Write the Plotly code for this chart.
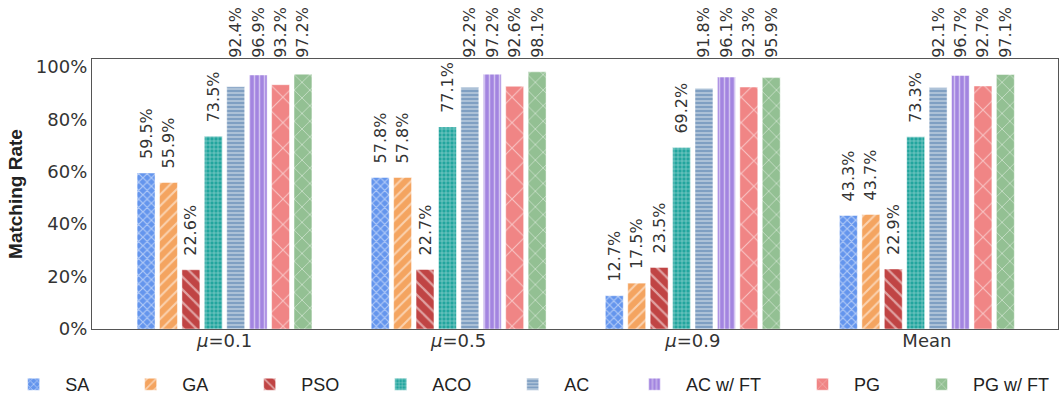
import plotly.graph_objects as go

groups = ["<i>μ</i>=0.1", "<i>μ</i>=0.5", "<i>μ</i>=0.9", "Mean"]
methods = ["SA", "GA", "PSO", "ACO", "AC", "AC w/ FT", "PG", "PG w/ FT"]

sa = [59.5, 57.8, 12.7, 43.3]
ga = [55.9, 57.8, 17.5, 43.7]
pso = [22.6, 22.7, 23.5, 22.9]
aco = [73.5, 77.1, 69.2, 73.3]
ac = [92.4, 92.2, 91.8, 92.1]
ac_ft = [96.9, 97.2, 96.1, 96.7]
pg = [93.2, 92.6, 92.3, 92.7]
pg_ft = [97.2, 98.1, 95.9, 97.1]

y_ticks = [0, 20, 40, 60, 80, 100]

series = [sa, ga, pso, aco, ac, ac_ft, pg, pg_ft]

colors = ["#6495ED", "#F4A460", "#C04444", "#22A59E",
          "#7F9FC2", "#A385E0", "#F08585", "#93C093"]
# hatch shape, spacing and line share for each method
hatches = [("x", 6, 0.35), ("/", 8, 0.25), ("\\", 9, 0.25), ("+", 4, 0.3),
           ("-", 4, 0.35), ("|", 5, 0.3), ("x", 18, 0.12), ("x", 11, 0.15)]

# value labels sit a little above each bar; labels of tall bars are
# lined up together just above the axes frame
LABEL_GAP = 4.2
LABEL_TOP = 102.3
TALL = 90


def label_base(v):
    return LABEL_TOP if v >= TALL else v + LABEL_GAP


fig = go.Figure()
for i, (name, vals, col, (shape, size, sol)) in enumerate(
        zip(methods, series, colors, hatches)):
    last = i == len(methods) - 1
    # extra room after each legend label but the final one
    pad = "" if last else "\u00a0" * 5
    fig.add_trace(go.Bar(
        name=name + pad,
        legend="legend" if i < 5 else "legend2",
        offsetgroup=str(i),
        x=groups,
        y=vals,
        marker=dict(
            color=col,
            line=dict(color="rgba(255,255,255,0.6)", width=0.8),
            pattern=dict(shape=shape, size=size, solidity=sol,
                         fgcolor="white", fillmode="overlay"),
        ),
    ))
    # flat, invisible carrier bar for the value text
    fig.add_trace(go.Bar(
        showlegend=False,
        hoverinfo="skip",
        offsetgroup=str(i),
        x=groups,
        base=[label_base(v) for v in vals],
        y=[1e-6] * len(vals),
        marker=dict(color="rgba(0,0,0,0)", line=dict(width=0)),
        text=[f"{v:.1f}%" for v in vals],
        textposition="outside",
        textangle=-90,
        constraintext="none",
        cliponaxis=False,
        textfont=dict(family="DejaVu Sans", size=16, color="#333333"),
    ))

legend_style = dict(
    orientation="h",
    xanchor="left",
    yref="container", y=0.071, yanchor="top",
    font=dict(family="Liberation Sans", size=18, color="#222222"),
    itemwidth=53,
    traceorder="normal",
)

fig.update_layout(
    width=1064,
    height=394,
    margin=dict(l=92, r=6, t=59, b=65, autoexpand=False),
    barmode="group",
    bargap=0.234,
    bargroupgap=0.2,
    plot_bgcolor="white",
    paper_bgcolor="white",
    font=dict(family="DejaVu Sans", size=18, color="#333333"),
    legend=dict(xref="container", x=0.002, **legend_style),
    legend2=dict(xref="container", x=0.5855, **legend_style),
    showlegend=True,
)

fig.update_xaxes(
    showline=True, linecolor="#555555", linewidth=1.2, mirror=True,
    ticks="", showgrid=False,
    tickfont=dict(family="DejaVu Sans", size=18, color="#333333"),
    ticklabelstandoff=-5,
    range=[-0.566, 3.56],
)
fig.update_yaxes(
    range=[0, 103],
    tickvals=y_ticks,
    ticktext=[f"{t}%" for t in y_ticks],
    showline=True, linecolor="#555555", linewidth=1.2, mirror=True,
    ticks="", showgrid=False, zeroline=False,
    tickfont=dict(family="DejaVu Sans", size=18, color="#333333"),
    title=dict(text="<b>Matching Rate</b>",
               font=dict(family="Liberation Sans", size=19, color="#222222"),
               standoff=8),
)

fig.write_html("out.html")
